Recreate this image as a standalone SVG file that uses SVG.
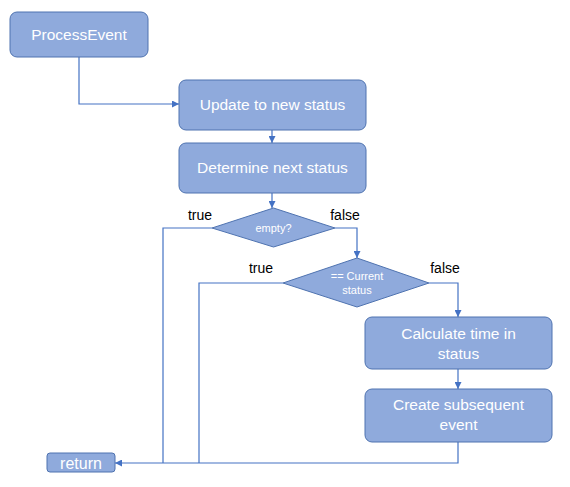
<svg xmlns="http://www.w3.org/2000/svg" width="570" height="487" viewBox="0 0 570 487">
<style>
.box{fill:#8FAADC;stroke:#4F73B0;stroke-width:1}
.t{font-family:"Liberation Sans",Arial,sans-serif;fill:#fff;text-anchor:middle;font-size:15.5px}
.s{font-family:"Liberation Sans",Arial,sans-serif;fill:#fff;text-anchor:middle;font-size:11px}
.l{font-family:"Liberation Sans",Arial,sans-serif;fill:#000;text-anchor:middle;font-size:14px}
.c{fill:none;stroke:#4472C4;stroke-width:1.2}
</style>
<defs>
<marker id="a" viewBox="0 0 10 10" refX="10" refY="5" markerWidth="7" markerHeight="7" markerUnits="userSpaceOnUse" orient="auto">
<path d="M0,0 L10,5 L0,10 z" fill="#4472C4"/>
</marker>
</defs>
<rect width="570" height="487" fill="#fff"/>
<g id="connectors">
<path class="c" d="M79,57 V104 H179" marker-end="url(#a)"/>
<path class="c" d="M272,130 V143" marker-end="url(#a)"/>
<path class="c" d="M272,193 V208" marker-end="url(#a)"/>
<path class="c" d="M335,228 H357 V258" marker-end="url(#a)"/>
<path class="c" d="M429,283 H458 V317" marker-end="url(#a)"/>
<path class="c" d="M458,369 V389" marker-end="url(#a)"/>
<path class="c" d="M458,442 V463 H115" marker-end="url(#a)"/>
<path class="c" d="M212,228 H163 V463"/>
<path class="c" d="M283,283 H199 V463"/>
<text class="l" x="200" y="220">true</text>
<text class="l" x="345" y="220">false</text>
<text class="l" x="261" y="273">true</text>
<text class="l" x="445" y="273">false</text>
</g>
<g id="processEvent">
<rect class="box" x="10" y="12" width="138" height="45" rx="7"/>
<text class="t" x="79" y="40">ProcessEvent</text>
</g>
<g id="update">
<rect class="box" x="179" y="80" width="187" height="50" rx="7"/>
<text class="t" x="272.5" y="110">Update to new status</text>
</g>
<g id="determine">
<rect class="box" x="179" y="143" width="187" height="50" rx="7"/>
<text class="t" x="272.5" y="173">Determine next status</text>
</g>
<g id="empty">
<polygon class="box" points="212,228 273.5,208 335,228 273.5,247"/>
<text class="s" x="273.5" y="232">empty?</text>
</g>
<g id="current">
<polygon class="box" points="283,283 357,258 429,283 357,307"/>
<text class="s" x="357" y="280">== Current</text>
<text class="s" x="357" y="294">status</text>
</g>
<g id="calculate">
<rect class="box" x="365" y="317" width="187" height="52" rx="7"/>
<text class="t" x="458.5" y="339">Calculate time in</text>
<text class="t" x="458.5" y="359">status</text>
</g>
<g id="create">
<rect class="box" x="365" y="389" width="187" height="53" rx="7"/>
<text class="t" x="458.5" y="410">Create subsequent</text>
<text class="t" x="458.5" y="430">event</text>
</g>
<g id="return">
<rect class="box" x="47" y="453" width="68" height="19" rx="3"/>
<text class="t" x="81" y="468.5" style="font-size:16px">return</text>
</g>
</svg>
